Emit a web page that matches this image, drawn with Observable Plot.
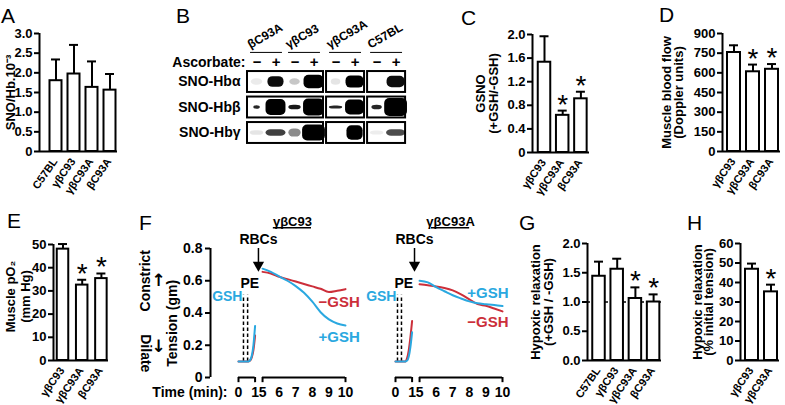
<!DOCTYPE html>
<html><head><meta charset="utf-8">
<script src="https://cdn.jsdelivr.net/npm/d3@7"></script>
<script src="https://cdn.jsdelivr.net/npm/@observablehq/plot@0.6"></script>
<style>
body{margin:0;background:#fff;}
#fig{position:relative;width:785px;height:405px;overflow:hidden;background:#fff;font-family:"Liberation Sans",Arial,Helvetica,sans-serif;}
#fig svg{position:absolute;left:0;top:0;}
#fig g[aria-label="y-axis tick"] path,#fig g[aria-label="y-axis"] .tick line{stroke-width:2px;}
#fig g[aria-label="bands"]{filter:blur(0.9px);}
.lab{position:absolute;font-size:21px;line-height:21px;color:#000;font-weight:normal;}
</style></head><body><div id="fig"></div>
<script>
// ---------- DATA ----------
// A: SNO/Hb
const aCats = ["C57BL","γβC93","γβC93A","βC93A"];
const aMean = [1.80,1.97,1.63,1.56];
const aSem  = [0.54,0.74,0.66,0.41];
const aSig  = [false,false,false,false];
const aTicks = [0,0.5,1.0,1.5,2.0,2.5,3.0];
// C: GSNO
const cCats = ["γβC93","γβC93A","βC93A"];
const cMean = [1.53,0.63,0.91];
const cSem  = [0.44,0.08,0.12];
const cSig  = [false,true,true];
const cTicks = [0,0.4,0.8,1.2,1.6,2.0];
// D: Muscle blood flow
const dCats = ["γβC93","γβC93A","βC93A"];
const dMean = [755,608,627];
const dSem  = [55,55,40];
const dSig  = [false,true,true];
const dTicks = [0,150,300,450,600,750,900];
// E: Muscle pO2
const eCats = ["γβC93","γβC93A","βC93A"];
const eMean = [48.0,32.5,35.3];
const eSem  = [2.2,2.3,2.2];
const eSig  = [false,true,true];
const eTicks = [0,10,20,30,40,50];
// G: Hypoxic relaxation ratio
const gCats = ["C57BL","γβC93","γβC93A","βC93A"];
const gMean = [1.44,1.56,1.06,1.00];
const gSem  = [0.25,0.18,0.19,0.13];
const gSig  = [false,false,true,true];
const gTicks = [0,0.5,1.0,1.5,2.0];
const gRef = 1.0;
// H: Hypoxic relaxation %
const hCats = ["γβC93","γβC93A"];
const hMean = [46.8,35.2];
const hSem  = [2.9,3.7];
const hSig  = [false,true];
const hTicks = [0,10,20,30,40,50,60];
// B: western blot
const blotGroups = ["βC93A","γβC93","γβC93A","C57BL"];
const blotBoxes = [[0,1],[2],[3]];
const blotAscorbate = ["−","+"];
const blotRows = ["SNO-Hbα","SNO-Hbβ","SNO-Hbγ"];
const blotIntensity = [
  [0.08,0.95,0.22,1.0,0.10,1.0,0.0,0.95],
  [0.85,1.0,0.90,1.0,0.85,1.0,0.85,1.0],
  [0.10,0.75,0.45,1.0,0.0,1.0,0.07,0.7]];
const blotBreadth = [
  [0.6,0.85,0.55,1.05,0.5,0.95,0.0,0.95],
  [0.35,1.05,0.65,1.1,0.7,1.0,0.55,1.2],
  [0.7,1.05,0.65,1.2,0.0,0.85,0.7,1.0]];
const blotThickness = [
  [0.25,0.42,0.25,0.52,0.25,0.48,0.0,0.45],
  [0.14,0.62,0.18,0.66,0.12,0.58,0.18,0.7],
  [0.18,0.26,0.32,0.62,0.0,0.56,0.16,0.26]];
// F: tension traces (time in minutes)
const fPeTime = [0,0.6,0.7,0.8,0.9,1.0];
const fRbcTime = [5,5.5,6,6.5,7,7.5,8,8.5,9,9.5,10];
const fTimeSegments = [[0,1],[5,10]];
const fTimeTicks = [0,1,5,6,7,8,9,10];
const fTensionTicks = [0,0.2,0.4,0.6,0.8];
const fL_peMinus = [0.1,0.1,0.105,0.125,0.17,0.26];
const fL_pePlus  = [0.1,0.1,0.108,0.135,0.2,0.32];
const fL_minus = [0.655,0.645,0.625,0.61,0.595,0.58,0.565,0.55,0.53,0.538,0.548];
const fL_plus  = [0.675,0.655,0.627,0.6,0.567,0.525,0.47,0.405,0.36,0.335,0.322];
const fR_peMinus = [0.1,0.1,0.12,0.17,0.25,0.35];
const fR_pePlus  = [0.1,0.1,0.105,0.13,0.19,0.28];
const fR_minus = [0.578,0.572,0.565,0.555,0.54,0.515,0.485,0.455,0.445,0.428,0.41];
const fR_plus  = [0.6,0.59,0.56,0.535,0.51,0.49,0.472,0.46,0.455,0.45,0.443];

// ---------- RENDER ----------
const FONT = '"Liberation Sans", Arial, Helvetica, sans-serif';
const RED = "#cc2f3a", BLUE = "#2aa8e0";
const W = 785, H = 405;
const fig = document.getElementById("fig");
const baseStyle = {fontFamily: FONT, fontSize: "13px", fontWeight: "bold", background: "transparent", color: "#000", overflow: "visible"};
const fmt1 = d => d === 0 ? "0" : d.toFixed(1);

function barPanel(p) {
  const n = p.cats.length;
  const rows = p.cats.map((c, i) => ({i, cat: c, mean: p.mean[i], sem: p.sem[i], sig: p.sig[i]}));
  const hw = p.bw / 2 / p.step, cap = 4.5 / p.step;
  const axisIdx = (p.left - p.c0) / p.step;
  const [y0, y1] = p.yDomain;
  const mid = (y0 + y1) / 2;
  const marks = [];
  if (p.ref != null) marks.push(Plot.ruleY([p.ref], {strokeDasharray: "3,3", strokeWidth: 1.5}));
  marks.push(
    Plot.rect(rows, {x1: d => d.i - hw, x2: d => d.i + hw, y1: () => y0, y2: "mean", fill: "white", stroke: "black", strokeWidth: 2}),
    Plot.ruleX(rows, {x: "i", y1: "mean", y2: d => d.mean + d.sem, strokeWidth: 2}),
    Plot.ruleY(rows, {y: d => d.mean + d.sem, x1: d => d.i - cap, x2: d => d.i + cap, strokeWidth: 2}),
    Plot.ruleY([y0], {strokeWidth: 2}),
    Plot.ruleX([axisIdx], {y1: () => y0, y2: () => y1, strokeWidth: 2}),
    Plot.text(rows.filter(d => d.sig), {x: "i", y: d => d.mean + d.sem, text: () => "*", fontSize: 28, fontWeight: "normal", lineAnchor: "middle", dy: -6}),
    Plot.text(rows, {x: "i", y: () => y0, text: "cat", rotate: -55, textAnchor: "end", lineAnchor: "middle", fontSize: 11, dx: -1, dy: 8})
  );
  p.ylab.forEach((t, k) => marks.push(
    Plot.text([t], {frameAnchor: "left", y: () => mid, text: d => d, rotate: -90, textAnchor: "middle", lineAnchor: "middle", dx: p.ylabDx[k], fontSize: 13, dy: p.ylabDy || 0})
  ));
  return Plot.plot({
    width: W, height: H,
    marginLeft: p.left, marginRight: W - p.right, marginTop: p.top, marginBottom: H - p.bottom,
    x: {domain: [0, n - 1], range: [p.c0, p.c0 + p.step * (n - 1)], axis: null},
    y: {domain: p.yDomain, ticks: p.ticks, tickSize: 5, tickPadding: 2, tickFormat: p.fmt, label: null},
    style: baseStyle,
    marks
  });
}

// broken time axis: 0–1 min, then 5–10 min, with a short gap between
const SHIFT = 3.55;
const disp = t => t <= 1 ? t : (t >= 5 ? t - SHIFT : 1 + (t - 1) * (5 - SHIFT - 1) / 4);

function tensionPanel(o) {
  const pe = arr => fPeTime.map((x, i) => ({t: disp(x), v: arr[i]}));
  const rb = arr => fRbcTime.map((x, i) => ({t: disp(x), v: arr[i]}));
  const dmax = disp(10);
  const pxPer = (o.range[1] - o.range[0]) / dmax;
  const axisX = (o.left - o.range[0]) / pxPer;
  const marks = [
    Plot.ruleY(fTimeSegments, {y: () => 0, x1: d => disp(d[0]), x2: d => disp(d[1]), strokeWidth: 2}),
    Plot.ruleX(fTimeSegments.flat(), {x: d => disp(d), y1: () => 0, y2: () => -0.032, strokeWidth: 2}),
    Plot.text(fTimeTicks, {x: d => disp(d), y: () => 0, dy: 15, text: d => String(d), fontSize: 14, lineAnchor: "middle"}),
    Plot.ruleX(o.peMarks, {x: d => disp(d), y1: () => 0.1, y2: () => 0.51, strokeDasharray: "3.5,2.5", strokeWidth: 1.5}),
    Plot.text(["PE"], {x: () => disp(o.peMarks[0]), y: () => 0.585, text: d => d, textAnchor: "start", dx: -3, fontSize: 14}),
    Plot.text(["GSH"], {x: () => disp(o.peMarks[0]), y: () => 0.5, text: d => d, textAnchor: "end", dx: -1, fontSize: 14, fill: BLUE}),
    Plot.text(["RBCs"], {x: () => disp(o.rbc), y: () => 0.853, text: d => d, fontSize: 14}),
    Plot.ruleX([o.rbc], {x: d => disp(d), y1: () => 0.8, y2: () => 0.71, strokeWidth: 1.5}),
    Plot.dot([o.rbc], {x: d => disp(d), y: () => 0.697, symbol: "triangle", r: 4.2, fill: "black", rotate: 180}),
    Plot.text([o.title], {x: () => disp(o.titleT), y: () => 0.966, text: d => d, fontSize: 13}),
    Plot.ruleY([0.928], {x1: () => disp(o.titleT) - 1.15, x2: () => disp(o.titleT) + 1.15, strokeWidth: 1.5}),
    Plot.line(pe(o.peMinus), {x: "t", y: "v", stroke: RED, strokeWidth: 2, curve: "monotone-x"}),
    Plot.line(pe(o.pePlus), {x: "t", y: "v", stroke: BLUE, strokeWidth: 2, curve: "monotone-x"}),
    Plot.line(rb(o.minus), {x: "t", y: "v", stroke: RED, strokeWidth: 2, curve: "monotone-x"}),
    Plot.line(rb(o.plus), {x: "t", y: "v", stroke: BLUE, strokeWidth: 2, curve: "monotone-x"}),
    Plot.text(["−GSH"], {x: () => disp(o.minusLab[0]), y: () => o.minusLab[1], text: d => d, textAnchor: o.labAnchor, fontSize: 15, fill: RED}),
    Plot.text(["+GSH"], {x: () => disp(o.plusLab[0]), y: () => o.plusLab[1], text: d => d, textAnchor: o.labAnchor, fontSize: 15, fill: BLUE})
  ];
  if (o.axis) {
    const side = {frameAnchor: "left", textAnchor: "middle", lineAnchor: "middle"};
    marks.push(
      Plot.ruleX([axisX], {y1: () => 0, y2: () => 0.8, strokeWidth: 2}),
      Plot.text(["Tension (gm)"], {...side, y: () => 0.336, text: d => d, rotate: -90, dx: -38, fontSize: 14}),
      Plot.text(["Constrict"], {...side, y: () => 0.6, text: d => d, rotate: -90, dx: -65, fontSize: 14}),
      Plot.text(["↑"], {...side, y: () => 0.6, text: d => d, dx: -52, fontSize: 17, fontFamily: "DejaVu Sans"}),
      Plot.text(["Dilate"], {...side, y: () => 0.15, text: d => d, rotate: 90, dx: -65, fontSize: 14}),
      Plot.text(["↓"], {...side, y: () => 0.19, text: d => d, dx: -52, fontSize: 17, fontFamily: "DejaVu Sans"}),
      Plot.text(["Time (min):"], {x: () => disp(-0.66), y: () => 0, dy: 15, text: d => d, textAnchor: "end", fontSize: 14, lineAnchor: "middle"})
    );
  }
  return Plot.plot({
    width: W, height: H,
    marginLeft: o.left, marginRight: W - 520, marginTop: 248, marginBottom: H - 377,
    x: {domain: [0, dmax], range: o.range, axis: null},
    y: o.axis ? {domain: [0, 0.8], ticks: fTensionTicks, tickSize: 5, tickPadding: 3, tickFormat: d => d === 0 ? "0" : d.toFixed(1), label: null}
              : {domain: [0, 0.8], axis: null},
    style: {...baseStyle, fontSize: "14px"},
    marks
  });
}

function blotPanel() {
  // lane slots: boxes of groups, each group 2 lanes, small gap between boxes
  const gap = 0.16;
  const lanes = [], boxes = [], groups = [];
  let s = 0;
  blotBoxes.forEach(bg => {
    const start = s;
    bg.forEach(g => {
      const first = lanes.length;
      blotAscorbate.forEach(a => { lanes.push({slot: s + 0.5, sign: a, group: g}); s += 1; });
      groups.push({name: blotGroups[g], a: lanes[first].slot, b: lanes[lanes.length - 1].slot});
    });
    boxes.push({x1: start, x2: s});
    s += gap;
  });
  const total = s - gap;
  const bands = [];
  blotRows.forEach((r, ri) => lanes.forEach((ln, li) => {
    if (blotIntensity[ri][li] > 0) bands.push({row: ri, slot: ln.slot, int: blotIntensity[ri][li], w: blotBreadth[ri][li], h: blotThickness[ri][li]});
  }));
  const boxRows = [];
  blotRows.forEach((r, ri) => boxes.forEach(b => boxRows.push({...b, row: ri})));
  const px = 19, left = 247;
  return Plot.plot({
    width: W, height: H,
    marginLeft: left, marginRight: W - (left + total * px), marginTop: 68.75, marginBottom: H - 145.25,
    x: {domain: [0, total], axis: null},
    y: {domain: [-0.5, 2.5], reverse: true, axis: null},
    style: baseStyle,
    marks: [
      Plot.rect(bands, {x1: d => d.slot - d.w / 2, x2: d => d.slot + d.w / 2, y1: d => d.row - d.h / 2, y2: d => d.row + d.h / 2, fill: "black", fillOpacity: d => d.int, rx: 5, ariaLabel: "bands"}),
      Plot.rect(boxRows, {x1: "x1", x2: "x2", y1: d => d.row - 0.41, y2: d => d.row + 0.41, fill: "none", stroke: "black", strokeWidth: 2}),
      Plot.text(blotRows, {x: () => 0, y: (d, i) => i, text: d => d, textAnchor: "end", dx: -7, fontSize: 14}),
      Plot.text(["Ascorbate:"], {x: () => 0, y: () => -0.76, text: d => d, textAnchor: "end", dx: -2, fontSize: 14}),
      Plot.text(lanes, {x: "slot", y: () => -0.76, text: "sign", fontSize: 15}),
      Plot.ruleY(groups, {y: () => -1.16, x1: d => d.a - 0.34, x2: d => d.b + 0.34, strokeWidth: 1}),
      Plot.text(groups, {x: d => d.a - 0.34, y: () => -1.3, text: "name", rotate: -30, textAnchor: "start", lineAnchor: "bottom", fontSize: 12})
    ]
  });
}

const panels = [
  barPanel({cats: aCats, mean: aMean, sem: aSem, sig: aSig, ticks: aTicks, yDomain: [0, 3], fmt: fmt1,
    left: 39, right: 117, top: 33, bottom: 151, c0: 55.5, step: 18, bw: 12, ylab: ["SNO/Hb.10⁻³"], ylabDx: [-29]}),
  blotPanel(),
  barPanel({cats: cCats, mean: cMean, sem: cSem, sig: cSig, ticks: cTicks, yDomain: [0, 2], fmt: fmt1,
    left: 532, right: 589, top: 34, bottom: 152, c0: 544, step: 18.2, bw: 12.5, ylab: ["GSNO", "(+GSH/-GSH)"], ylabDx: [-52, -39]}),
  barPanel({cats: dCats, mean: dMean, sem: dSem, sig: dSig, ticks: dTicks, yDomain: [0, 900], fmt: d => String(d),
    left: 722, right: 780, top: 33, bottom: 151, c0: 733.5, step: 19, bw: 13, ylab: ["Muscle blood flow", "(Doppler units)"], ylabDx: [-56, -44]}),
  barPanel({cats: eCats, mean: eMean, sem: eSem, sig: eSig, ticks: eTicks, yDomain: [0, 50], fmt: d => String(d),
    left: 53, right: 108, top: 244, bottom: 360, c0: 62.5, step: 19.2, bw: 11.5, ylab: ["Muscle pO₂", "(mm Hg)"], ylabDx: [-43, -28], ylabDy: -6}),
  barPanel({cats: gCats, mean: gMean, sem: gSem, sig: gSig, ticks: gTicks, yDomain: [0, 2], fmt: d => d.toFixed(1), ref: gRef,
    left: 587, right: 661, top: 243, bottom: 360, c0: 598.5, step: 18.2, bw: 12.5, ylab: ["Hypoxic relaxation", "(+GSH / -GSH)"], ylabDx: [-52, -39]}),
  barPanel({cats: hCats, mean: hMean, sem: hSem, sig: hSig, ticks: hTicks, yDomain: [0, 60], fmt: d => String(d),
    left: 740, right: 779, top: 243, bottom: 360, c0: 751.5, step: 19, bw: 13, ylab: ["Hypoxic relaxation", "(% initial tension)"], ylabDx: [-43, -32]}),
  tensionPanel({axis: true, left: 210, range: [238, 345], peMarks: [0.3, 0.55], rbc: 2.8,
    title: "γβC93", titleT: 6.8, peMinus: fL_peMinus, pePlus: fL_pePlus, minus: fL_minus, plus: fL_plus,
    labAnchor: "start", minusLab: [8.37, 0.467], plusLab: [8.37, 0.25]}),
  tensionPanel({axis: false, left: 395, range: [395, 502], peMarks: [0.12, 0.36], rbc: 2.3,
    title: "γβC93A", titleT: 6.87, peMinus: fR_peMinus, pePlus: fR_pePlus, minus: fR_minus, plus: fR_plus,
    labAnchor: "end", minusLab: [10.36, 0.343], plusLab: [10.36, 0.523]})
];
panels.forEach(p => fig.appendChild(p));

const letters = [["A", 1, 5], ["B", 176, 5], ["C", 461, 7], ["D", 659, 4], ["E", 7, 210], ["F", 139, 212], ["G", 519, 212], ["H", 687, 212]];
letters.forEach(([t, x, y]) => {
  const s = document.createElement("div");
  s.className = "lab"; s.textContent = t; s.style.left = x + "px"; s.style.top = y + "px";
  fig.appendChild(s);
});
</script></body></html>
